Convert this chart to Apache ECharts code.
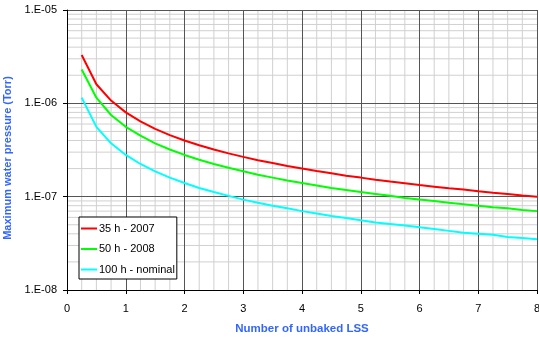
<!DOCTYPE html>
<html>
<head>
<meta charset="utf-8">
<script src="https://cdn.jsdelivr.net/npm/echarts@6/dist/echarts.min.js"></script>
<style>
  html, body { margin: 0; padding: 0; background: #fff; }
  #chart { width: 539px; height: 339px; }
</style>
</head>
<body>
<div id="chart"></div>
<script>
// number of unbaked LSS
var lss = [0.25, 0.5, 0.75, 1, 1.25, 1.5, 1.75, 2, 2.25, 2.5, 2.75, 3, 3.25, 3.5, 3.75, 4,
  4.25, 4.5, 4.75, 5, 5.25, 5.5, 5.75, 6, 6.25, 6.5, 6.75, 7, 7.25, 7.5, 7.75, 8];

// maximum water pressure (Torr)
var p35h = [3.3e-6, 1.6e-6, 1.07e-6, 8.0e-7, 6.4e-7, 5.33e-7, 4.57e-7, 4.0e-7, 3.56e-7, 3.2e-7, 2.91e-7, 2.67e-7,
  2.46e-7, 2.29e-7, 2.13e-7, 2.0e-7, 1.88e-7, 1.78e-7, 1.68e-7, 1.6e-7, 1.52e-7, 1.45e-7, 1.39e-7, 1.33e-7,
  1.28e-7, 1.23e-7, 1.19e-7, 1.14e-7, 1.10e-7, 1.07e-7, 1.03e-7, 1.0e-7];
var p50h = [2.3e-6, 1.15e-6, 7.5e-7, 5.6e-7, 4.5e-7, 3.73e-7, 3.2e-7, 2.8e-7, 2.49e-7, 2.24e-7, 2.04e-7, 1.87e-7,
  1.72e-7, 1.6e-7, 1.49e-7, 1.4e-7, 1.32e-7, 1.24e-7, 1.18e-7, 1.12e-7, 1.07e-7, 1.02e-7, 9.7e-8, 9.3e-8,
  9.0e-8, 8.6e-8, 8.3e-8, 8.0e-8, 7.7e-8, 7.5e-8, 7.2e-8, 7.0e-8];
var p100h = [1.15e-6, 5.6e-7, 3.73e-7, 2.8e-7, 2.24e-7, 1.87e-7, 1.6e-7, 1.4e-7, 1.24e-7, 1.12e-7, 1.02e-7, 9.3e-8,
  8.6e-8, 8.0e-8, 7.5e-8, 7.0e-8, 6.6e-8, 6.2e-8, 5.9e-8, 5.6e-8, 5.3e-8, 5.1e-8, 4.9e-8, 4.7e-8,
  4.5e-8, 4.3e-8, 4.1e-8, 4.0e-8, 3.9e-8, 3.7e-8, 3.6e-8, 3.5e-8];

var seriesNames = ["35 h - 2007", "50 h - 2008", "100 h - nominal"];
var decades = [1e-8, 1e-7, 1e-6];
var xMin = 0, xMax = 8, yMin = 1e-8, yMax = 1e-5;

function paires(ys) {
  return lss.map(function (x, i) { return [x, ys[i]]; });
}

var police = "Liberation Sans, Arial, sans-serif";
var bleu = "#3366ff";
var gris = "#d0d0d0";

// grille mineure : 2..9 par decade en y, quarts d'unite en x
var grille = [];
decades.forEach(function (d) {
  for (var k = 2; k <= 9; k++) {
    grille.push([[xMin, k * d], [xMax, k * d]]);
  }
});
for (var u = xMin; u < xMax; u++) {
  [0.25, 0.5, 0.75].forEach(function (f) {
    grille.push([[u + f, yMin], [u + f, yMax]]);
  });
}

var seriesGrille = grille.map(function (seg) {
  return {
    type: "line",
    data: seg,
    showSymbol: false,
    silent: true,
    animation: false,
    lineStyle: { color: gris, width: 1 },
    emphasis: { disabled: true },
    z: 1
  };
});

var dom = document.getElementById("chart");
var myChart = echarts.init(dom, null, { renderer: "canvas" });

var option = {
  animation: false,
  backgroundColor: "#fff",
  textStyle: { fontFamily: police },
  grid: { left: 67, right: 2, top: 10, bottom: 49, containLabel: false, outerBoundsMode: "none" },
  legend: {
    orient: "vertical",
    left: 79,
    top: 217,
    backgroundColor: "#fff",
    borderColor: "#000",
    borderWidth: 1,
    borderRadius: 0,
    padding: [6, 2, 4, 2],
    itemGap: 9.5,
    itemWidth: 16,
    itemHeight: 2,
    icon: "rect",
    z: 10,
    textStyle: { fontSize: 11, color: "#000", fontFamily: police, padding: [0, 0, 0, -3] },
    data: seriesNames
  },
  xAxis: {
    type: "value",
    min: xMin,
    max: xMax,
    interval: 1,
    name: "Number of unbaked LSS",
    nameLocation: "middle",
    nameGap: 33,
    nameTextStyle: { color: bleu, fontWeight: "bold", fontSize: 11.5, fontFamily: police },
    axisLine: { show: true, lineStyle: { color: "#000", width: 1 } },
    axisTick: { show: true, inside: false, length: 4, lineStyle: { color: "#000" } },
    axisLabel: { color: "#000", fontSize: 11, margin: 13 },
    splitLine: { show: true, lineStyle: { color: "#555", width: 1 } },
    z: 3
  },
  yAxis: {
    type: "log",
    logBase: 10,
    min: yMin,
    max: yMax,
    name: "Maximum water pressure (Torr)",
    nameLocation: "middle",
    nameGap: 53,
    nameTextStyle: { color: bleu, fontWeight: "bold", fontSize: 11, fontFamily: police, padding: [0, 16, 0, 0] },
    axisLine: { show: true, lineStyle: { color: "#000", width: 1 } },
    axisTick: { show: true, inside: false, length: 4, lineStyle: { color: "#000" } },
    axisLabel: {
      color: "#000",
      fontSize: 11,
      margin: 10,
      formatter: function (v) {
        var e = Math.round(Math.log10(v));
        return "1.E-" + (Math.abs(e) < 10 ? "0" : "") + Math.abs(e);
      }
    },
    splitLine: { show: true, lineStyle: { color: "#555", width: 1 } },
    z: 3
  },
  series: seriesGrille.concat([
    {
      name: seriesNames[0],
      type: "line",
      data: paires(p35h),
      showSymbol: false,
      lineStyle: { color: "#ff0000", width: 2 },
      itemStyle: { color: "#ff0000" },
      z: 6
    },
    {
      name: seriesNames[1],
      type: "line",
      data: paires(p50h),
      showSymbol: false,
      lineStyle: { color: "#00ff00", width: 2 },
      itemStyle: { color: "#00ff00" },
      z: 5
    },
    {
      name: seriesNames[2],
      type: "line",
      data: paires(p100h),
      showSymbol: false,
      lineStyle: { color: "#00ffff", width: 2 },
      itemStyle: { color: "#00ffff" },
      z: 4
    }
  ])
};

myChart.setOption(option, true);
window.addEventListener("resize", myChart.resize);
</script>
</body>
</html>
